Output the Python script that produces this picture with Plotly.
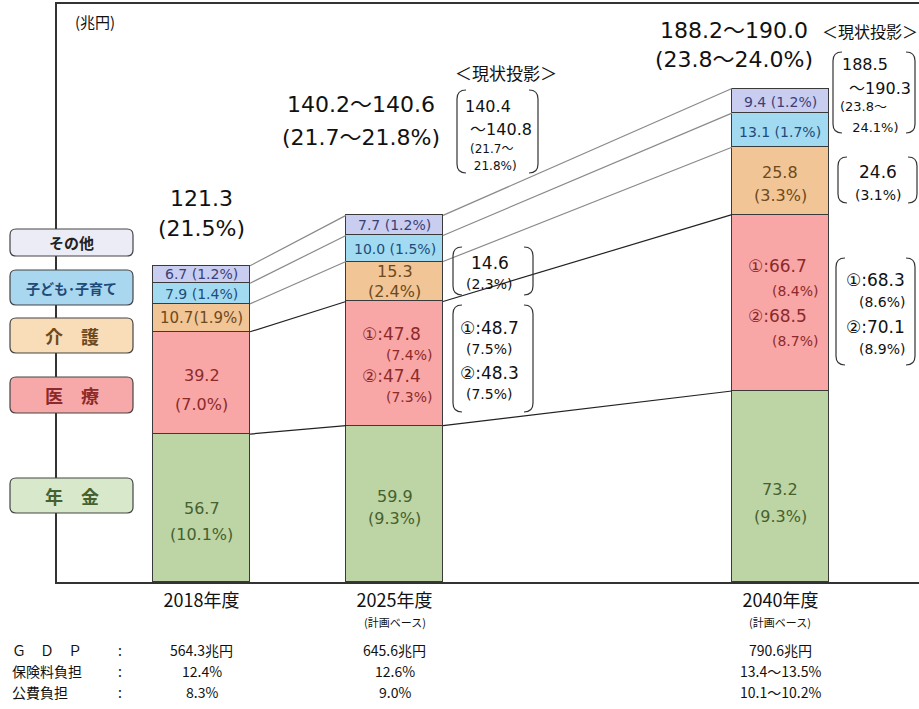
import plotly.graph_objects as go

# ---------------- data ----------------
years = ["2018年度", "2025年度", "2040年度"]
year_notes = ["", "(計画ベース)", "(計画ベース)"]
x_pos = [0, 1, 3]

categories = ["年金", "医療", "介護", "子ども・子育て", "その他"]
legend_text = ["年　金", "医　療", "介　護", "子ども･子育て", "その他"]
pension = [56.7, 59.9, 73.2]
medical = [39.2, 47.6, 67.6]
care = [10.7, 15.3, 25.8]
child = [7.9, 10.0, 13.1]
other = [6.7, 7.7, 9.4]

pension_lbl = ["56.7<br>(10.1%)", "59.9<br>(9.3%)", "73.2<br>(9.3%)"]
medical_lbl = ["39.2<br>(7.0%)",
               "①:47.8<br>(7.4%)<br>②:47.4<br>(7.3%)",
               "①:66.7<br>(8.4%)<br>②:68.5<br>(8.7%)"]
care_lbl = ["10.7(1.9%)", "15.3<br>(2.4%)", "25.8<br>(3.3%)"]
child_lbl = ["7.9 (1.4%)", "10.0 (1.5%)", "13.1 (1.7%)"]
other_lbl = ["6.7 (1.2%)", "7.7 (1.2%)", "9.4 (1.2%)"]

total_lbl = ["121.3<br>(21.5%)", "140.2～140.6<br>(21.7～21.8%)",
             "188.2～190.0<br>(23.8～24.0%)"]

proj_total = [None, ["140.4", " ～140.8", "(21.7～", " 21.8%)"],
              ["188.5", " ～190.3", "(23.8～", " 24.1%)"]]
proj_care = [None, ["14.6", "(2.3%)"], ["24.6", "(3.1%)"]]
proj_medical = [None, ["①:48.7", "(7.5%)", "②:48.3", "(7.5%)"],
                ["①:68.3", "(8.6%)", "②:70.1", "(8.9%)"]]

row_names = ["Ｇ　Ｄ　Ｐ", "保険料負担", "公費負担"]
gdp = ["564.3兆円", "645.6兆円", "790.6兆円"]
premium = ["12.4%", "12.6%", "13.4～13.5%"]
public = ["8.3%", "9.0%", "10.1～10.2%"]

# ---------------- layout geometry ----------------
W, H = 919, 709
L, R, T, B = 57, 0, 4, 127
PW, PH = W - L - R, H - T - B
JP = "Noto Sans CJK JP"
NUM = "DejaVu Sans, Noto Sans CJK JP"
BAR_W = 0.503

fill_cols = ["#bdd4a4", "#f8a6a6", "#f2c596", "#a2dbf1", "#c9cdf0"]
text_cols = ["#44612f", "#8c2a2a", "#6e4a1c", "#1d4b7a", "#3b3f78"]
box_cols = ["#d7e8cb", "#f7a9a9", "#f9ddb8", "#a9d7ef", "#ececf6"]


def fx(x):
    return (x - L) / PW


def fy(y):
    return (H - B - y) / PH


series = [pension, medical, care, child, other]
labels = [pension_lbl, medical_lbl, care_lbl, child_lbl, other_lbl]

fig = go.Figure()
for name, vals, col in zip(categories, series, fill_cols):
    fig.add_trace(go.Bar(x=x_pos, y=vals, name=name, width=BAR_W,
                         marker=dict(color=col, line=dict(color="#3a3a3a", width=1)),
                         showlegend=False, hoverinfo="skip"))

# cumulative tops
cum = []
run = [0, 0, 0]
for vals in series:
    run = [a + b for a, b in zip(run, vals)]
    cum.append(run)

# connector lines between bars
line_cols = ["#222222", "#222222", "#8a8a8a", "#8a8a8a", "#8a8a8a"]
for k in range(5):
    for i in range(len(x_pos) - 1):
        fig.add_trace(go.Scatter(
            x=[x_pos[i] + BAR_W / 2, x_pos[i + 1] - BAR_W / 2],
            y=[cum[k][i], cum[k][i + 1]], mode="lines",
            line=dict(color=line_cols[k], width=1.2),
            showlegend=False, hoverinfo="skip"))

ann = []

# labels inside bars
spacing = {0: [26, 22, 27], 1: [29, 21, 25], 2: [0, 20, 23], 3: [0, 0, 0], 4: [0, 0, 0]}
dys = {0: [13, 4, 17], 1: [7, 2, 1], 2: [0, 0, 3], 3: [0, 0, 2], 4: [0, 0, 1]}
for k in range(5):
    for i in range(3):
        base = cum[k][i] - series[k][i] / 2
        lines = labels[k][i].split("<br>")
        n = len(lines)
        sp = spacing[k][i]
        for j, ln in enumerate(lines):
            off = (j - (n - 1) / 2) * sp + dys[k][i]
            xs = 0
            size = 16 if n > 1 else 14
            if k == 1 and i > 0:
                xs = -3 if j % 2 == 0 else 15
                size = 17 if j % 2 == 0 else 14
            if k == 2 and i == 0:
                size = 15
            ann.append(dict(x=x_pos[i], y=base, xref="x", yref="y", text=ln,
                            showarrow=False, yshift=-off, xshift=xs,
                            font=dict(family=NUM, size=size, color=text_cols[k])))

# totals above bars (two lines each)
tot_shift = [(0, 25, 30), (-34, 66, 33), (-46, 17, 29)]
for i in range(3):
    l1, l2 = total_lbl[i].split("<br>")
    xs, ys, sp = tot_shift[i]
    for j, ln in enumerate([l2, l1]):
        ann.append(dict(x=x_pos[i], y=cum[4][i], xref="x", yref="y", text=ln,
                        showarrow=False, yanchor="middle", xshift=xs,
                        yshift=ys + 12 + j * sp,
                        font=dict(family=NUM, size=22, color="#111111")))


def txt(x, y, s, size=14, color="#111111", xanchor="center", family=NUM):
    ann.append(dict(x=fx(x), y=fy(y), xref="paper", yref="paper", text=s,
                    showarrow=False, xanchor=xanchor, yanchor="middle",
                    font=dict(family=family, size=size, color=color)))


txt(95, 21, "(兆円)", 15, family=JP)
txt(506, 72, "＜現状投影＞", 17, family=JP)
txt(820, 31, "＜現状投影＞", 16, family=JP, xanchor="left")

shapes = []


def paren(x0, y0, x1, y1, r=9):
    pl = "M {},{} Q {},{} {},{} L {},{} Q {},{} {},{}".format(
        fx(x0 + r), fy(y0), fx(x0), fy(y0), fx(x0), fy(y0 + r),
        fx(x0), fy(y1 - r), fx(x0), fy(y1), fx(x0 + r), fy(y1))
    pr = "M {},{} Q {},{} {},{} L {},{} Q {},{} {},{}".format(
        fx(x1 - r), fy(y0), fx(x1), fy(y0), fx(x1), fy(y0 + r),
        fx(x1), fy(y1 - r), fx(x1), fy(y1), fx(x1 - r), fy(y1))
    for p in (pl, pr):
        shapes.append(dict(type="path", path=p, xref="paper", yref="paper",
                           line=dict(color="#333333", width=1.2)))


# projection brackets (2025)
paren(457, 90, 538, 173)
for s, x, y, sz in zip(proj_total[1], [463, 463, 468, 468], [106, 129, 149, 166], [16, 16, 12, 12]):
    txt(x, y, s, sz, xanchor="left")
paren(453, 247, 533, 295)
txt(490, 263, proj_care[1][0], 17)
txt(489, 284, proj_care[1][1], 14)
paren(453, 305, 533, 412)
for s, x, y, sz in zip(proj_medical[1], [489, 490, 489, 490], [328, 349, 373, 394], [17, 14, 17, 14]):
    txt(x, y, s, sz)

# projection brackets (2040)
paren(833, 52, 915, 133)
for s, x, y, sz in zip(proj_total[2], [840, 842, 838, 846], [65, 88, 107, 127], [16, 16, 13, 13]):
    txt(x, y, s, sz, xanchor="left")
paren(838, 157, 917, 203)
txt(878, 172, proj_care[2][0], 17)
txt(878, 195, proj_care[2][1], 14)
paren(836, 258, 915, 365)
for s, x, y, sz in zip(proj_medical[2], [875, 882, 875, 882], [280, 302, 327, 349], [17, 14, 17, 14]):
    txt(x, y, s, sz)


# legend boxes on the left
def rbox(x0, y0, x1, y1, fill, r=6):
    p = ("M {a},{b} L {c},{b} Q {x1},{b} {x1},{d} L {x1},{e} Q {x1},{y1} {c},{y1} "
         "L {a},{y1} Q {x0},{y1} {x0},{e} L {x0},{d} Q {x0},{b} {a},{b} Z").format(
        a=fx(x0 + r), b=fy(y0), c=fx(x1 - r), d=fy(y0 + r), e=fy(y1 - r),
        x0=fx(x0), x1=fx(x1), y1=fy(y1))
    shapes.append(dict(type="path", path=p, xref="paper", yref="paper",
                       fillcolor=fill, line=dict(color="#444444", width=1.2)))


box_y = [(478, 513), (377, 413), (318, 353), (270, 305), (229, 256)]
box_fs = [18, 18, 18, 14, 15]
for k in range(5):
    y0, y1 = box_y[k]
    rbox(10, y0, 133, y1, box_cols[k])
    txt(71.5, (y0 + y1) / 2, "<b>" + legend_text[k] + "</b>", box_fs[k],
        color=text_cols[k] if k != 4 else "#222222", family=JP)

# year notes under tick labels
for i in range(3):
    if year_notes[i]:
        ann.append(dict(x=x_pos[i], y=fy(622), xref="x", yref="paper",
                        text=year_notes[i], showarrow=False, yanchor="middle",
                        font=dict(family=JP, size=11, color="#111111")))

# bottom rows
row_vals = [gdp, premium, public]
row_y = [650, 671, 692]
for r_i in range(3):
    txt(10, row_y[r_i], row_names[r_i], 14, xanchor="left", family=JP)
    txt(120, row_y[r_i], ":", 14, family=JP)
    for i in range(3):
        ann.append(dict(x=x_pos[i], y=fy(row_y[r_i]), xref="x", yref="paper",
                        text=row_vals[r_i][i], showarrow=False, yanchor="middle",
                        font=dict(family=JP, size=14, color="#111111")))

fig.update_layout(
    width=W, height=H, margin=dict(l=L, r=R, t=T, b=B),
    barmode="stack", bargap=0, plot_bgcolor="white", paper_bgcolor="white",
    annotations=ann, shapes=shapes,
    font=dict(family=JP, color="#111111"),
    xaxis=dict(range=[-0.749, 3.718], tickvals=x_pos, ticktext=years,
               showline=True, linecolor="#333333", linewidth=1.5, mirror=True,
               showgrid=False, zeroline=False, ticks="", ticklabelstandoff=2,
               tickfont=dict(family=JP, size=18, color="#111111")),
    yaxis=dict(range=[0, 221.5], showticklabels=False, showgrid=False,
               zeroline=False, showline=True, linecolor="#333333", linewidth=1.5,
               ticks=""),
)

fig.write_html("out.html", config={"displayModeBar": False},
               post_script="document.body.style.margin='0px';")
